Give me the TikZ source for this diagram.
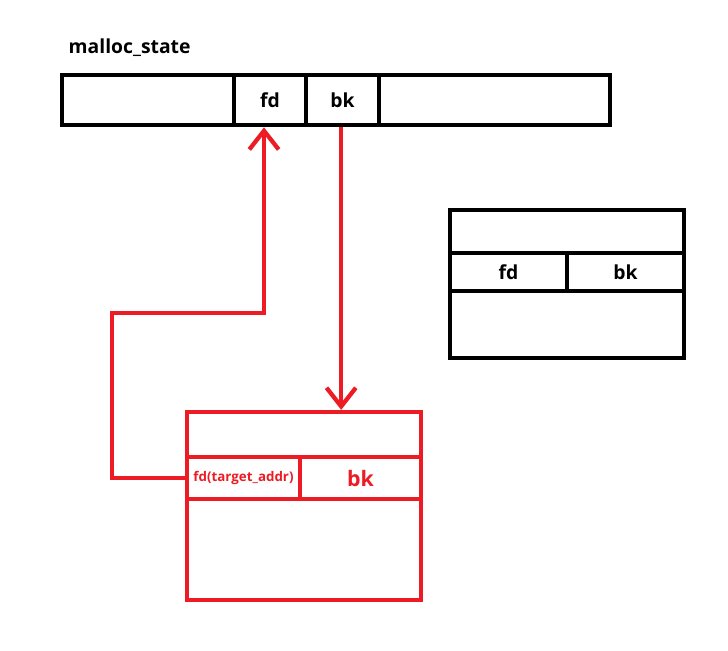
\documentclass[tikz,border=0pt]{standalone}
\usepackage{fontspec}
\setmainfont{Open Sans}
\usetikzlibrary{arrows.meta}
\definecolor{paintred}{RGB}{237,28,36}

\tikzset{
  sz/.style 2 args={minimum width=#1*0.75pt, minimum height=#2*0.75pt},
  box/.style={draw, line width=3.5pt, inner sep=0pt, font=\bfseries\fontsize{14.5}{16}\selectfont},
  redbox/.style={box, draw=paintred, text=paintred, line width=3.2pt},
  ptr/.style={draw=paintred, line width=3.2pt, -{Straight Barb[length=14pt,width=22pt]}}
}

\begin{document}
\begin{tikzpicture}[x=0.75pt, y=-0.75pt]
\useasboundingbox (0,0) rectangle (728,650);
\node[font=\bfseries\fontsize{14.5}{16}\selectfont, anchor=west] (title) at (64,48) {malloc\_state};
\node[box, sz={548}{50}] (bar) at (336,100) {};
\node[box, sz={72}{50}] (topfd) at (270,100) {fd};
\node[box, sz={73}{50}] (topbk) at (342.5,100) {bk};
\node[box, sz={234}{148}] (chunk) at (567,284) {};
\node[box, sz={117}{38}] (chunkfd) at (508.5,272) {fd};
\node[box, sz={117}{38}] (chunkbk) at (625.5,272) {bk};
\node[redbox, sz={234}{188}] (fake) at (304,506) {};
\node[redbox, sz={113}{42}, font=\bfseries\fontsize{10}{12}\selectfont] (fakefd) at (243.5,478) {fd(target\_addr)};
\node[redbox, sz={121}{42}, font=\bfseries\fontsize{16}{18}\selectfont] (fakebk) at (360.5,478) {bk};
\coordinate (bend) at (112,313);
\draw[ptr] (fakefd.west) -| (bend) -| ([xshift=-4.5pt]topfd.south);
\draw[ptr] ([xshift=-1pt]topbk.south) -- ([xshift=-1pt]topbk.south |- fake.north);
\end{tikzpicture}
\end{document}
